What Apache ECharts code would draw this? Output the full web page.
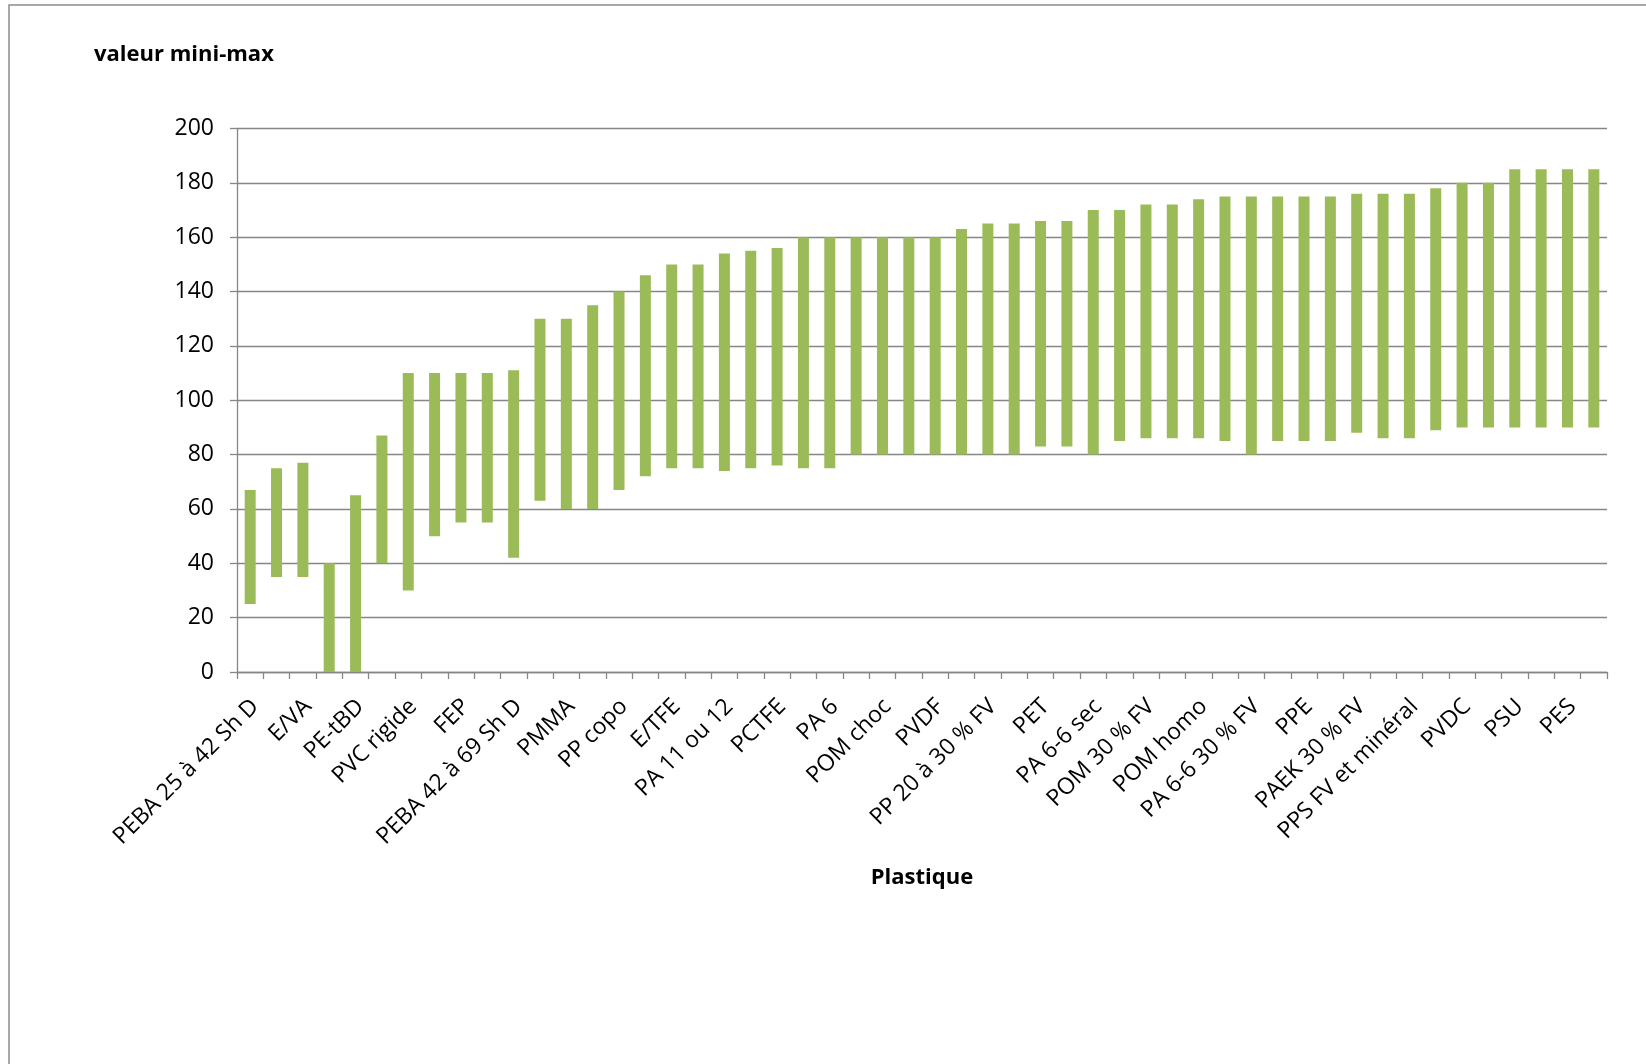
<!DOCTYPE html>
<html>
<head>
<meta charset="utf-8">
<title>valeur mini-max</title>
<script src="https://cdn.jsdelivr.net/npm/echarts@6/dist/echarts.min.js"></script>
<style>
  html, body { margin: 0; padding: 0; background: #ffffff; }
  #chart { width: 1646px; height: 1064px; }
</style>
</head>
<body>
<div id="chart"></div>
<script>
// Plastics, ordered by increasing upper value; every other name is shown on the axis
const plastics = [
  'PEBA 25 à 42 Sh D', 'PE-BD', 'E/VA', 'PVC souple', 'PE-tBD', 'PE-HD',
  'PVC rigide', 'PS', 'FEP', 'ABS', 'PEBA 42 à 69 Sh D', 'PP homo',
  'PMMA', 'SAN', 'PP copo', 'PA 12', 'E/TFE', 'PA 6-10',
  'PA 11 ou 12', 'PFA', 'PCTFE', 'PBT', 'PA 6', 'PC',
  'POM choc', 'POM copo', 'PVDF', 'PA 6-6', 'PP 20 à 30 % FV', 'PBT 30 % FV',
  'PET', 'PET 30 % FV', 'PA 6-6 sec', 'PA 6 30 % FV', 'POM 30 % FV', 'PC 30 % FV',
  'POM homo', 'PPS', 'PA 6-6 30 % FV', 'PEI', 'PPE', 'PAEK',
  'PAEK 30 % FV', 'PPS 40 % FV', 'PPS FV et minéral', 'PVF', 'PVDC', 'PTFE',
  'PSU', 'PEI 30 % FV', 'PES', 'PES 30 % FV'
];

// Lower bound of each range
const minValues = [
  25, 35, 35, 0, 0, 40,
  30, 50, 55, 55, 42, 63,
  60, 60, 67, 72, 75, 75,
  74, 75, 76, 75, 75, 80,
  80, 80, 80, 80, 80, 80,
  83, 83, 80, 85, 86, 86,
  86, 85, 80, 85, 85, 85,
  88, 86, 86, 89, 90, 90,
  90, 90, 90, 90
];

// Upper bound of each range
const maxValues = [
  67, 75, 77, 40, 65, 87,
  110, 110, 110, 110, 111, 130,
  130, 135, 140, 146, 150, 150,
  154, 155, 156, 160, 160, 160,
  160, 160, 160, 163, 165, 165,
  166, 166, 170, 170, 172, 172,
  174, 175, 175, 175, 175, 175,
  176, 176, 176, 178, 180, 180,
  185, 185, 185, 185
];

// Value axis scale
const yMin = 0;
const yMax = 200;
const yStep = 20;

const titleText = 'valeur mini-max';
const xAxisTitle = 'Plastique';

// Height of each floating bar = upper - lower
const spans = maxValues.map((v, i) => v - minValues[i]);

const FONT = '"Open Sans", "Liberation Sans", sans-serif';
const AXIS_GREY = '#868686';

const chart = echarts.init(document.getElementById('chart'), null, { renderer: 'canvas' });

chart.setOption({
  animation: false,
  backgroundColor: '#ffffff',
  textStyle: { fontFamily: FONT },
  title: {
    text: titleText,
    left: 89,
    top: 39,
    textStyle: { fontFamily: FONT, fontSize: 22, fontWeight: 'bold', color: '#000000' }
  },
  graphic: [
    {
      type: 'rect',
      silent: true,
      shape: { x: 9, y: 5, width: 1700, height: 1100 },
      style: { fill: 'none', stroke: '#8c8c8c', lineWidth: 1.5 }
    }
  ],
  grid: {
    left: 237,
    right: 39,
    top: 128.5,
    bottom: 392,
    containLabel: false
  },
  xAxis: {
    type: 'category',
    data: plastics,
    boundaryGap: true,
    name: xAxisTitle,
    nameLocation: 'middle',
    nameGap: 195,
    nameTextStyle: { fontFamily: FONT, fontSize: 22, fontWeight: 'bold', color: '#000000' },
    axisLine: { show: true, lineStyle: { color: AXIS_GREY, width: 1.3 } },
    axisTick: { show: true, interval: 0, length: 7, lineStyle: { color: AXIS_GREY, width: 1.3 } },
    axisLabel: {
      interval: 1,
      rotate: 45,
      margin: 26,
      verticalAlign: 'top',
      lineHeight: 14,
      fontFamily: FONT,
      fontSize: 23,
      color: '#000000'
    },
    splitLine: { show: false }
  },
  yAxis: {
    type: 'value',
    min: yMin,
    max: yMax,
    interval: yStep,
    axisLine: { show: true, lineStyle: { color: AXIS_GREY, width: 1.3 } },
    axisTick: { show: true, length: 7, lineStyle: { color: AXIS_GREY, width: 1.3 } },
    axisLabel: { margin: 23, fontFamily: FONT, fontSize: 23, color: '#000000' },
    splitLine: { show: true, lineStyle: { color: AXIS_GREY, width: 1.3 } }
  },
  series: [
    {
      name: 'mini',
      type: 'bar',
      stack: 'range',
      barWidth: 11,
      silent: true,
      itemStyle: { color: 'rgba(0,0,0,0)' },
      data: minValues
    },
    {
      name: 'max',
      type: 'bar',
      stack: 'range',
      barWidth: 11,
      itemStyle: { color: '#9BBB59' },
      data: spans
    }
  ]
});
</script>
</body>
</html>
